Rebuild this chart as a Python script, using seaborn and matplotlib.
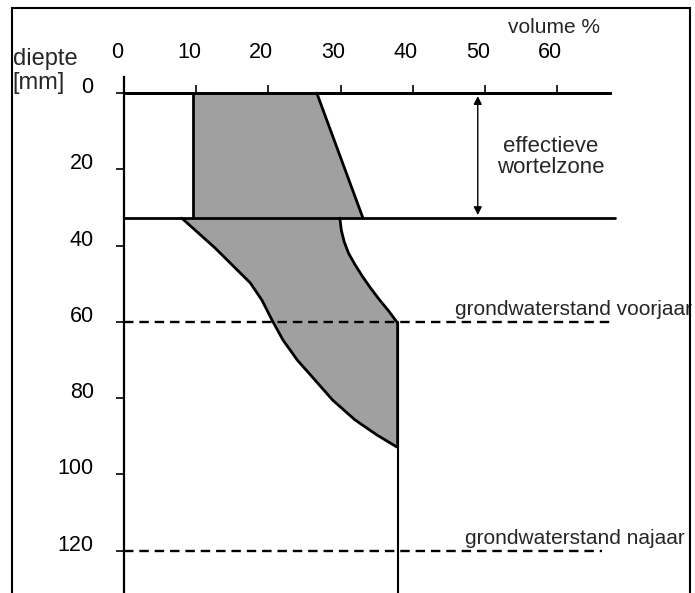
import matplotlib
matplotlib.use("Agg")
import matplotlib.pyplot as plt
import matplotlib.transforms as mtransforms
from matplotlib.patches import Rectangle
import numpy as np
import pandas as pd
import seaborn as sns

## --- data (volume %, depth)
volume_ticks = [0, 10, 20, 30, 40, 50, 60]
depth_ticks = [0, 20, 40, 60, 80, 100, 120]

# upper block (effective root zone)
block_depth = [0, 32.8]
block_left = [9.6, 9.6]
block_right = [26.7, 33.1]

# lower block, left and right boundary curves
low_left_vol = [8.0, 12.6, 17.5, 19.1, 20.5, 22.0, 24.0, 26.2, 28.9, 32.0, 35.0, 37.8]
low_left_depth = [32.8, 40.6, 49.8, 54.3, 59.5, 64.7, 70.0, 74.7, 80.5, 85.7, 89.6, 92.8]
low_right_vol = [29.9, 30.1, 30.5, 31.1, 32.0, 33.0, 34.1, 35.3, 36.6, 37.9, 37.9]
low_right_depth = [32.8, 36.0, 39.0, 42.0, 45.0, 48.0, 51.0, 54.0, 57.0, 60.3, 92.8]

# horizontal lines
zone_depths = [0, 32.8]
zone_ends = [67.3, 68.0]
gw_depths = [60, 120]
gw_ends = [67.3, 66.2]
gw_labels = ["grondwaterstand voorjaar", "grondwaterstand najaar"]
gw_label_x = [45.8, 47.2]

# vertical line below the spring groundwater level
vert_vol = 37.9
vert_depth = [60, 131]

sns.set_theme(style="white")
plt.rcParams['font.family'] = ['Liberation Sans', 'DejaVu Sans']

fig = plt.figure(figsize=(6.95, 5.93), dpi=100)
ax = fig.add_axes([0, 0, 1, 1])
ax.set_xlim(-124 / 7.22, 571 / 7.22)
ax.set_ylim(500 / 3.815, -93 / 3.815)

grey = '#a0a0a0'

## --- shaded blocks
ax.fill_betweenx(block_depth, block_left, block_right, color=grey, lw=0)
poly_x = np.concatenate([low_left_vol, low_right_vol[::-1]])
poly_y = np.concatenate([low_left_depth, low_right_depth[::-1]])
ax.fill(poly_x, poly_y, color=grey, lw=0)

## --- block outlines
edges = [(block_left, block_depth), (block_right, block_depth),
         (low_left_vol, low_left_depth), (low_right_vol, low_right_depth)]
for ex, ey in edges:
    sns.lineplot(x=ex, y=ey, sort=False, estimator=None, color='black',
                 lw=2.0, ax=ax)
ax.plot([vert_vol, vert_vol], vert_depth, color='black', lw=1.5, clip_on=False)

## --- horizontal lines
for d, e in zip(zone_depths, zone_ends):
    ax.plot([0, e], [d, d], color='black', lw=2.0)
for d, e, lab, lx in zip(gw_depths, gw_ends, gw_labels, gw_label_x):
    ax.plot([0, e], [d, d], color='black', lw=1.7, linestyle=(0, (4, 2.5)))
    ax.text(lx, d - 1.8, lab, fontsize=15, ha='left', va='baseline')

## --- double arrow of the root zone
ax.annotate('', xy=(49.0, 0.8), xytext=(49.0, 32.0),
            arrowprops=dict(arrowstyle='<|-|>', color='black', lw=1,
                            shrinkA=0, shrinkB=0, mutation_scale=12))
ax.text(59.1, 16.8, "effectieve\nwortelzone", fontsize=16, ha='center',
        va='center', linespacing=1.0)

## --- axes
for s in ['right', 'bottom']:
    ax.spines[s].set_visible(False)
ax.spines['left'].set_position(('data', 0))
ax.spines['top'].set_position(('data', 0))
ax.spines['left'].set_bounds(-4.2, 131)
ax.spines['top'].set_bounds(0, 67.3)
ax.spines['left'].set_linewidth(1.6)
ax.spines['top'].set_linewidth(2.0)
ax.spines['left'].set_color('black')
ax.spines['top'].set_color('black')
ax.xaxis.set_ticks_position('top')
ax.yaxis.set_ticks_position('left')
ax.set_xticks(volume_ticks)
ax.set_yticks(depth_ticks)
ax.set_xticklabels([str(v) for v in volume_ticks])
ax.set_yticklabels([str(v) for v in depth_ticks])
ax.tick_params(axis='x', direction='out', length=5.8, width=1.2, pad=15.5,
               labelsize=15.5, colors='black')
ax.tick_params(axis='y', direction='out', length=5.8, width=1.2, pad=16,
               labelsize=15.5, colors='black')
shift_x = mtransforms.ScaledTranslation(-0.07, 0, fig.dpi_scale_trans)
for lab in ax.get_xticklabels():
    lab.set_transform(lab.get_transform() + shift_x)
shift_y = mtransforms.ScaledTranslation(0, 0.08, fig.dpi_scale_trans)
for lab in ax.get_yticklabels():
    lab.set_transform(lab.get_transform() + shift_y)

ax.text(59.6, -17.3, "volume %", fontsize=15, ha='center', va='center')
ax.text(-15.4, -7.3, "diepte", fontsize=17, ha='left', va='baseline')
ax.text(-15.4, -1.0, "[mm]", fontsize=17, ha='left', va='baseline')

## --- frame around the figure
fig.patches.append(Rectangle((12 / 695, -0.05), 678 / 695, 1.05 - 8 / 593,
                             transform=fig.transFigure, fill=False,
                             edgecolor='black', lw=1.5))

fig.savefig('out.png', dpi=100, facecolor='white')
